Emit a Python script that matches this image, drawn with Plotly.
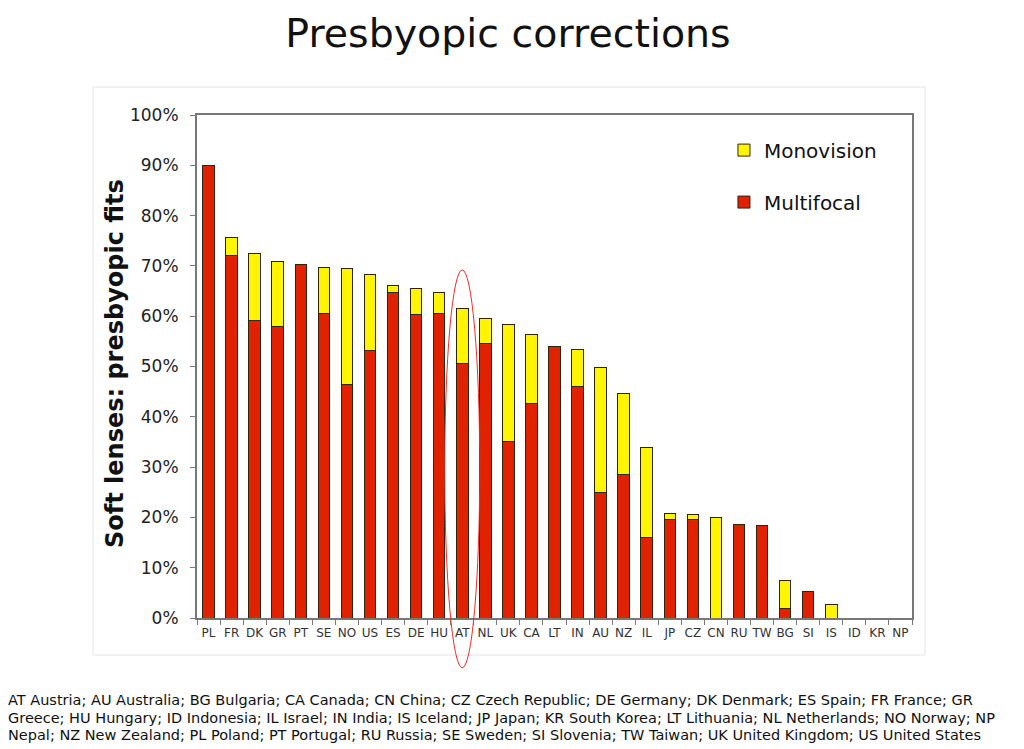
import plotly.graph_objects as go

countries = ["PL", "FR", "DK", "GR", "PT", "SE", "NO", "US", "ES", "DE", "HU", "AT",
             "NL", "UK", "CA", "LT", "IN", "AU", "NZ", "IL", "JP", "CZ", "CN", "RU",
             "TW", "BG", "SI", "IS", "ID", "KR", "NP"]
multifocal = [90.0, 72.0, 59.2, 58.0, 70.2, 60.6, 46.4, 53.1, 64.8, 60.4, 60.6, 50.5,
              54.5, 35.0, 42.7, 53.9, 46.1, 25.0, 28.6, 16.1, 19.5, 19.5, 0.0, 18.5,
              18.3, 1.8, 5.2, 0.0, 0.0, 0.0, 0.0]
monovision = [0.0, 3.7, 13.3, 12.8, 0.0, 9.0, 23.0, 15.1, 1.4, 5.2, 4.2, 11.1,
              5.1, 23.4, 13.6, 0.0, 7.2, 24.9, 16.1, 17.7, 1.2, 1.0, 20.0, 0.0,
              0.0, 5.7, 0.0, 2.6, 0.0, 0.0, 0.0]
y_ticks = [0, 10, 20, 30, 40, 50, 60, 70, 80, 90, 100]
y_tick_labels = [f"{v}%" for v in y_ticks]
highlight = "AT"

footer_lines = [
    "AT Austria; AU Australia; BG Bulgaria; CA Canada; CN China; CZ Czech Republic; DE Germany; DK Denmark; ES Spain; FR France; GR",
    "Greece; HU Hungary; ID Indonesia; IL Israel; IN India; IS Iceland; JP Japan; KR South Korea; LT Lithuania; NL Netherlands; NO Norway; NP",
    "Nepal; NZ New Zealand; PL Poland; PT Portugal; RU Russia; SE Sweden; SI Slovenia; TW Taiwan; UK United Kingdom; US United States",
]

RED = "#E02200"
YELLOW = "#FFF500"
OUTLINE = "#2e2410"
FONT = "DejaVu Sans, Verdana"

# plot area geometry (figure pixels)
L, R, T, B = 189, 120, 107, 139
W, H = 1024, 749
PW, PH = W - L - R, H - T - B


def px_x(fx):
    return (fx - L) / PW


def px_y(fy):
    return (H - B - fy) / PH


fig = go.Figure()
fig.add_trace(go.Bar(
    x=countries, y=multifocal, name="Multifocal", legendgroup="multi", legendrank=2,
    marker=dict(color=RED, line=dict(color=OUTLINE, width=1)), width=0.5,
))
fig.add_trace(go.Bar(
    x=countries, y=monovision, name="Monovision", legendgroup="mono", legendrank=1,
    marker=dict(color=YELLOW, line=dict(color=OUTLINE, width=1)), width=0.5,
))

n = len(countries)
idx = countries.index(highlight)
# ellipse around highlighted category (paper coords derived from category scale)
fig.add_shape(type="circle", xref="paper", yref="paper",
              x0=(idx + 0.5 - 0.76) / n, x1=(idx + 0.5 + 0.76) / n,
              y0=-0.099, y1=0.692,
              line=dict(color="#E8302A", width=1), layer="above")
# outer light frame
fig.add_shape(type="rect", xref="paper", yref="paper",
              x0=px_x(85), x1=px_x(917), y0=px_y(647), y1=px_y(79),
              line=dict(color="#E4E4E4", width=1), layer="below")

for i, line in enumerate(footer_lines):
    fig.add_annotation(text=line, xref="paper", yref="paper",
                       x=px_x(-2), y=px_y(692 + 17.5 * i), xanchor="left", yanchor="middle",
                       align="left", showarrow=False,
                       font=dict(family=FONT, size=14.5, color="#111"))

fig.add_annotation(text="<b>Soft lenses: presbyopic fits</b>", xref="paper", yref="paper",
                   x=px_x(107), y=px_y(356), xanchor="center", yanchor="middle",
                   textangle=-90, showarrow=False,
                   font=dict(family=FONT, size=24, color="#111"))

fig.update_layout(
    width=W, height=H,
    barmode="stack",
    paper_bgcolor="white", plot_bgcolor="white",
    margin=dict(l=L, r=R, t=T, b=B),
    title=dict(text="Presbyopic corrections", x=500 / W, xanchor="center",
               y=1 - 25 / H, yanchor="middle",
               font=dict(family=FONT, size=39.5, color="#111")),
    showlegend=True,
    legend=dict(x=0.737, y=0.969, xanchor="left", yanchor="top", traceorder="grouped",
                tracegroupgap=23, bgcolor="rgba(0,0,0,0)",
                font=dict(family=FONT, size=20, color="#111")),
    xaxis=dict(
        type="category", range=[-0.5, n - 0.5], tickson="boundaries",
        ticks="outside", ticklen=5, tickcolor="#777", tickangle=0, ticklabelstandoff=3,
        showline=True, linecolor="#777", linewidth=2, mirror=True,
        tickfont=dict(family=FONT, size=12, color="#333"),
        showgrid=False, automargin=False,
    ),
    yaxis=dict(
        range=[0, 100], tickvals=y_ticks, ticktext=y_tick_labels,
        ticks="outside", ticklen=5, tickcolor="#777", ticklabelstandoff=8,
        showline=True, linecolor="#777", linewidth=2, mirror=True,
        tickfont=dict(family=FONT, size=17, color="#222"),
        showgrid=False, zeroline=False, automargin=False,
    ),
)

fig.write_html("out.html")
